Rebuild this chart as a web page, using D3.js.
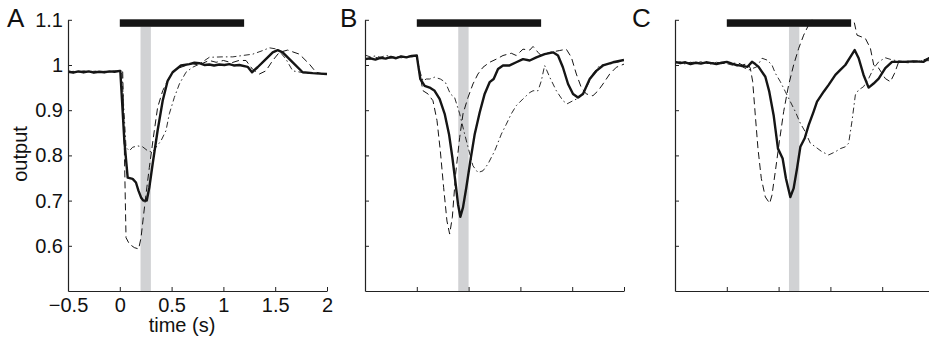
<!DOCTYPE html>
<html>
<head>
<meta charset="utf-8">
<script src="https://cdn.jsdelivr.net/npm/d3@7"></script>
<style>
    body { margin: 0; background: #fff; }
    svg { display: block; font-family: "Liberation Sans", Arial, sans-serif; }
</style>
</head>
<body>
<script>
// tick values and labels
var xTicks = [-0.5, 0, 0.5, 1, 1.5, 2];
var xTickLabels = ["\u22120.5", "0", "0.5", "1", "1.5", "2"];
var yTicks = [0.6, 0.7, 0.8, 0.9, 1, 1.1];
var yTickLabels = ["0.6", "0.7", "0.8", "0.9", "1", "1.1"];

var panelNames = ["A", "B", "C"];
var stimOn = [0, 0, 0];          // black bar start (s)
var stimOff = [1.2, 1.2, 1.2];   // black bar end (s)
var grayStart = [0.2, 0.4, 0.6]; // gray window
var grayEnd = [0.3, 0.5, 0.7];

// panel A: [time, output]
var aSolid = [[-0.5,0.985],[-0.45,0.983],[-0.4,0.986],[-0.35,0.984],[-0.3,0.986],[-0.25,0.983],[-0.2,0.985],[-0.15,0.984],[-0.1,0.986],[-0.05,0.985],[0,0.987],[0.005,0.987],[0.044,0.832],[0.076,0.751],[0.124,0.748],[0.156,0.74],[0.18,0.722],[0.205,0.707],[0.227,0.70],[0.26,0.70],[0.285,0.729],[0.317,0.781],[0.365,0.855],[0.414,0.921],[0.462,0.965],[0.51,0.984],[0.59,0.999],[0.671,1.002],[0.72,1.005],[0.768,1.004],[0.82,1.0],[0.864,1.001],[0.91,0.999],[0.96,1.001],[1.01,1.0],[1.057,1.002],[1.1,0.999],[1.154,1.0],[1.234,0.996],[1.276,0.984],[1.33,0.995],[1.41,1.013],[1.476,1.028],[1.524,1.033],[1.572,1.028],[1.669,1.006],[1.765,0.984],[1.862,0.982],[1.93,0.981],[2.0,0.98]];
var aDashed = [[-0.5,0.987],[-0.45,0.985],[-0.4,0.984],[-0.35,0.987],[-0.3,0.985],[-0.25,0.986],[-0.2,0.984],[-0.15,0.986],[-0.1,0.985],[-0.05,0.987],[0,0.986],[0.028,0.985],[0.045,0.8],[0.06,0.618],[0.092,0.604],[0.14,0.596],[0.182,0.593],[0.205,0.618],[0.227,0.663],[0.253,0.714],[0.285,0.773],[0.324,0.84],[0.365,0.906],[0.414,0.943],[0.478,0.973],[0.542,0.991],[0.639,0.999],[0.7,1.003],[0.76,1.0],[0.864,1.01],[0.93,1.006],[1.0,1.01],[1.08,1.005],[1.15,1.01],[1.218,1.01],[1.28,0.991],[1.347,0.98],[1.41,0.987],[1.476,1.01],[1.54,1.028],[1.62,1.033],[1.733,1.024],[1.83,1.002],[1.894,0.984],[1.95,0.981],[2.0,0.98]];
var aDashDot = [[-0.5,0.984],[-0.45,0.986],[-0.4,0.985],[-0.35,0.983],[-0.3,0.985],[-0.25,0.987],[-0.2,0.985],[-0.15,0.983],[-0.1,0.985],[-0.05,0.986],[0,0.985],[0.02,0.98],[0.06,0.818],[0.092,0.81],[0.124,0.818],[0.172,0.821],[0.22,0.819],[0.27,0.81],[0.317,0.807],[0.349,0.818],[0.397,0.832],[0.446,0.855],[0.478,0.892],[0.526,0.928],[0.575,0.958],[0.639,0.984],[0.703,0.995],[0.768,1.002],[0.864,1.017],[0.99,1.018],[1.09,1.018],[1.186,1.021],[1.283,1.024],[1.38,1.032],[1.444,1.038],[1.524,1.035],[1.604,1.013],[1.669,0.987],[1.8,0.982],[2.0,0.98]];

// panel B
var bSolid = [[-0.5,1.013],[-0.45,1.015],[-0.4,1.012],[-0.35,1.016],[-0.3,1.014],[-0.25,1.018],[-0.2,1.015],[-0.15,1.019],[-0.1,1.017],[-0.05,1.02],[0,1.021],[0.012,1.002],[0.034,0.969],[0.076,0.954],[0.124,0.95],[0.172,0.943],[0.22,0.925],[0.269,0.892],[0.311,0.847],[0.343,0.796],[0.375,0.737],[0.398,0.692],[0.42,0.664],[0.446,0.685],[0.478,0.729],[0.517,0.788],[0.559,0.847],[0.607,0.895],[0.655,0.936],[0.703,0.962],[0.742,0.969],[0.784,0.991],[0.832,0.999],[0.896,0.999],[0.96,1.006],[1.025,1.013],[1.09,1.01],[1.154,1.017],[1.234,1.024],[1.315,1.028],[1.363,1.021],[1.41,0.995],[1.46,0.958],[1.508,0.936],[1.556,0.928],[1.604,0.936],[1.669,0.969],[1.733,0.987],[1.797,0.999],[1.894,1.006],[2.0,1.011]];
var bDashed = [[-0.5,1.015],[-0.45,1.013],[-0.4,1.017],[-0.35,1.014],[-0.3,1.016],[-0.25,1.015],[-0.2,1.018],[-0.15,1.016],[-0.1,1.019],[-0.05,1.018],[0,1.02],[0.028,0.98],[0.06,0.943],[0.108,0.936],[0.156,0.921],[0.195,0.877],[0.227,0.81],[0.259,0.729],[0.291,0.655],[0.317,0.626],[0.343,0.663],[0.375,0.759],[0.414,0.84],[0.446,0.892],[0.494,0.928],[0.542,0.958],[0.59,0.98],[0.639,0.995],[0.703,1.006],[0.768,1.013],[0.832,1.021],[0.912,1.026],[0.96,1.021],[1.025,1.035],[1.09,1.033],[1.122,1.041],[1.17,1.028],[1.2,1.021],[1.283,1.028],[1.379,1.032],[1.443,1.035],[1.492,1.017],[1.54,0.98],[1.588,0.95],[1.636,0.936],[1.7,0.932],[1.75,0.943],[1.797,0.958],[1.862,0.98],[1.926,0.995],[2.0,1.002]];
var bDashDot = [[-0.5,1.022],[-0.45,1.018],[-0.4,1.02],[-0.35,1.017],[-0.3,1.021],[-0.25,1.019],[-0.2,1.016],[-0.15,1.02],[-0.1,1.018],[-0.05,1.021],[0,1.019],[0.028,0.987],[0.06,0.965],[0.092,0.969],[0.124,0.969],[0.172,0.973],[0.227,0.969],[0.275,0.962],[0.324,0.936],[0.365,0.928],[0.414,0.892],[0.462,0.847],[0.504,0.81],[0.542,0.777],[0.59,0.762],[0.639,0.766],[0.687,0.781],[0.752,0.81],[0.816,0.847],[0.864,0.869],[0.912,0.892],[0.96,0.91],[1.025,0.925],[1.09,0.939],[1.122,0.943],[1.17,0.943],[1.202,0.965],[1.234,0.999],[1.283,0.973],[1.347,0.943],[1.411,0.921],[1.45,0.914],[1.508,0.921],[1.572,0.928],[1.636,0.95],[1.7,0.98],[1.765,0.999],[1.862,1.002],[2.0,1.01]];

// panel C
var cSolid = [[-0.5,1.007],[-0.45,1.004],[-0.4,1.006],[-0.35,1.002],[-0.3,1.005],[-0.25,1.003],[-0.2,1.006],[-0.15,1.004],[-0.1,1.002],[-0.05,1.005],[0,1.007],[0.05,1.003],[0.092,1.0],[0.15,0.998],[0.2,0.996],[0.243,1.007],[0.275,1.002],[0.307,0.996],[0.372,0.974],[0.41,0.941],[0.452,0.889],[0.494,0.815],[0.539,0.793],[0.571,0.749],[0.613,0.708],[0.645,0.727],[0.678,0.771],[0.71,0.819],[0.752,0.838],[0.79,0.867],[0.838,0.897],[0.871,0.919],[0.935,0.941],[0.983,0.956],[1.048,0.978],[1.096,0.989],[1.144,1.0],[1.193,1.018],[1.234,1.033],[1.273,1.015],[1.32,0.978],[1.369,0.95],[1.417,0.959],[1.466,0.97],[1.53,0.993],[1.595,1.007],[1.7,1.007],[1.8,1.008],[1.9,1.007],[1.95,1.015],[2.0,1.01]];
var cDashed = [[-0.5,1.005],[-0.45,1.007],[-0.4,1.003],[-0.35,1.006],[-0.3,1.004],[-0.25,1.007],[-0.2,1.003],[-0.15,1.005],[-0.1,1.006],[-0.05,1.003],[0,1.005],[0.05,1.002],[0.1,1.006],[0.15,1.0],[0.2,1.003],[0.227,0.993],[0.25,0.963],[0.275,0.889],[0.301,0.815],[0.333,0.749],[0.372,0.708],[0.414,0.694],[0.436,0.712],[0.468,0.764],[0.507,0.83],[0.549,0.897],[0.597,0.956],[0.645,1.0],[0.694,1.037],[0.742,1.066],[0.79,1.089],[0.85,1.11],[1.0,1.13],[1.15,1.12],[1.225,1.1],[1.257,1.066],[1.337,1.059],[1.386,1.037],[1.418,1.0],[1.466,0.993],[1.53,0.97],[1.579,0.963],[1.62,0.982],[1.659,1.007],[1.75,1.005],[1.85,1.008],[1.95,1.015],[2.0,1.01]];
var cDashDot = [[-0.5,1.004],[-0.45,1.006],[-0.4,1.002],[-0.35,1.005],[-0.3,1.007],[-0.25,1.003],[-0.2,1.005],[-0.15,1.002],[-0.1,1.006],[-0.05,1.004],[0,1.003],[0.05,1.0],[0.1,0.998],[0.15,0.996],[0.212,0.989],[0.29,0.996],[0.34,1.015],[0.388,1.011],[0.436,1.0],[0.468,0.982],[0.517,0.963],[0.565,0.941],[0.613,0.919],[0.661,0.897],[0.71,0.871],[0.758,0.852],[0.806,0.827],[0.855,0.819],[0.919,0.808],[0.983,0.801],[1.048,0.808],[1.096,0.815],[1.144,0.819],[1.176,0.827],[1.208,0.875],[1.241,0.934],[1.273,0.945],[1.32,0.952],[1.369,0.97],[1.418,0.993],[1.466,1.007],[1.53,1.016],[1.6,1.011],[1.7,1.008],[1.85,1.009],[2.0,1.01]];

var panelSeries = [
    [aDashDot, aDashed, aSolid],
    [bDashDot, bDashed, bSolid],
    [cDashDot, cDashed, cSolid]
];

var width = 929,
    height = 340,
    panelLeft = [68, 365, 675],
    letterX = [7, 340, 632],
    panelWidth = 259,
    plotTop = 19.8,
    plotBottom = 291,
    fontSize = 20;

// stroke styles for dash-dot, dashed, solid
var lineStyles = [
    { width: 0.9, dash: "6,3,1.5,3" },
    { width: 1, dash: "7,4" },
    { width: 2.4, dash: null }
];

var svg = d3.select("body")
    .append("svg")
    .attr("width", width)
    .attr("height", height);

var yScale = d3.scaleLinear()
    .domain([0.5, 1.1])
    .range([plotBottom, plotTop]);

panelNames.forEach(function (name, p) {
    drawPanel(name, p);
});

function drawPanel(name, p) {
    var x0 = panelLeft[p];
    var xScale = d3.scaleLinear()
        .domain([-0.5, 2])
        .range([x0, x0 + panelWidth]);

    var g = svg.append("g").attr("class", "panel panel" + name);

    // clip for curves
    svg.append("clipPath")
        .attr("id", "clip" + name)
        .append("rect")
        .attr("x", x0)
        .attr("y", plotTop)
        .attr("width", panelWidth)
        .attr("height", plotBottom - plotTop);

    // gray window
    var barBottom = plotTop + 7;
    g.append("rect")
        .attr("x", xScale(grayStart[p]))
        .attr("y", barBottom)
        .attr("width", xScale(grayEnd[p]) - xScale(grayStart[p]))
        .attr("height", yScale(0.5) - barBottom)
        .attr("fill", "#d1d2d4");

    var line = d3.line()
        .x(function (d) { return xScale(d[0]); })
        .y(function (d) { return yScale(d[1]); });

    panelSeries[p].forEach(function (series, i) {
        g.append("path")
            .datum(series)
            .attr("clip-path", "url(#clip" + name + ")")
            .attr("d", line)
            .attr("fill", "none")
            .attr("stroke", "#151515")
            .attr("stroke-width", lineStyles[i].width)
            .attr("stroke-linejoin", "round")
            .attr("stroke-dasharray", lineStyles[i].dash);
    });

    // stimulus bar
    g.append("rect")
        .attr("x", xScale(stimOn[p]))
        .attr("y", plotTop - 0.5)
        .attr("width", xScale(stimOff[p]) - xScale(stimOn[p]))
        .attr("height", 7.5)
        .attr("fill", "#151515");

    var showLabels = (p === 0);

    var xAxis = d3.axisBottom(xScale)
        .tickValues(xTicks)
        .tickSizeInner(-4)
        .tickSizeOuter(0)
        .tickPadding(7)
        .tickFormat(function (d, i) { return showLabels ? xTickLabels[i] : ""; });

    var yAxis = d3.axisLeft(yScale)
        .tickValues(yTicks)
        .tickSizeInner(-4)
        .tickSizeOuter(0)
        .tickPadding(5)
        .tickFormat(function (d, i) { return showLabels ? yTickLabels[i] : ""; });

    var gx = g.append("g")
        .attr("transform", "translate(0," + plotBottom + ")")
        .call(xAxis);
    var gy = g.append("g")
        .attr("transform", "translate(" + x0 + ",0)")
        .call(yAxis);

    [gx, gy].forEach(function (ax) {
        ax.select(".domain").attr("stroke", "#222").attr("stroke-width", 1.2);
        ax.selectAll(".tick line").attr("stroke", "#222");
        ax.selectAll("text")
            .attr("fill", "#111")
            .style("font-size", fontSize + "px")
            .style("font-family", "'Liberation Sans', Arial, sans-serif");
    });

    // panel letter
    svg.append("text")
        .attr("x", letterX[p])
        .attr("y", 27.3)
        .attr("fill", "#111")
        .style("font-size", "26px")
        .text(name);
}

// axis titles
svg.append("text")
    .attr("x", 182)
    .attr("y", 332)
    .attr("text-anchor", "middle")
    .attr("fill", "#111")
    .style("font-size", fontSize + "px")
    .text("time (s)");

svg.append("text")
    .attr("transform", "translate(27,154) rotate(-90)")
    .attr("text-anchor", "middle")
    .attr("fill", "#111")
    .style("font-size", fontSize + "px")
    .text("output");
</script>
</body>
</html>
